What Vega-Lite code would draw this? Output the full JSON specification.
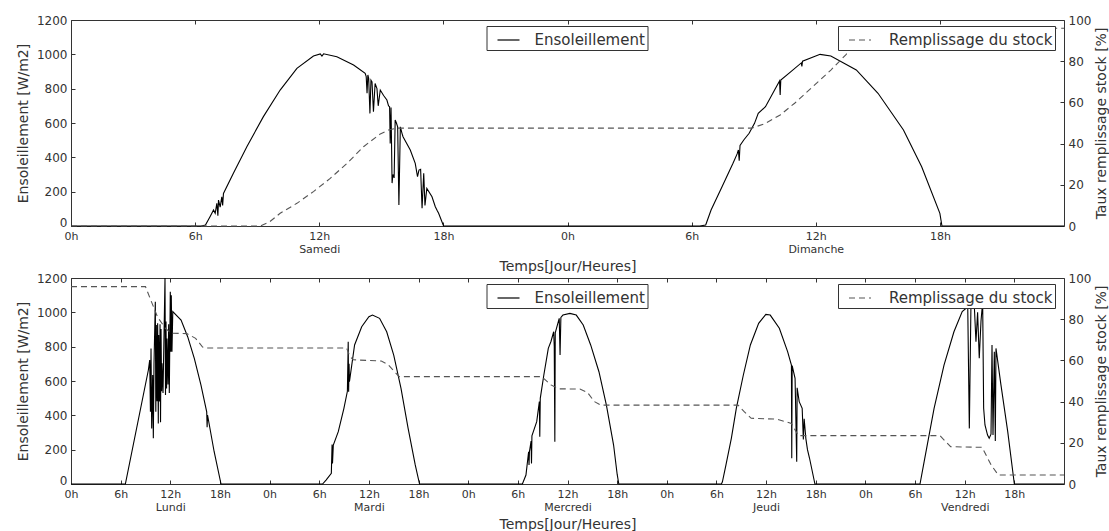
{
  "$schema": "https://vega.github.io/schema/vega-lite/v6.json",
  "background": "white",
  "padding": {"left": 15, "top": 13, "right": 2, "bottom": 0},
  "config": {
    "font": "DejaVu Sans",
    "view": {"stroke": "#333", "strokeWidth": 1},
    "axis": {"labelColor": "#333", "titleColor": "#333", "tickColor": "#333", "grid": false, "domain": false, "labelFont": "DejaVu Sans", "titleFont": "DejaVu Sans", "titleFontWeight": "normal"},
    "legend": {"labelFont": "DejaVu Sans", "labelColor": "#333", "labelLimit": 400}
  },
  "datasets": {
    "irr_top": [
      {"h":0,"v":0},{"h":6.3,"v":0},{"h":6.5,"v":6},{"h":6.72,"v":54},{"h":6.89,"v":93},{"h":6.97,"v":74},{"h":7.05,"v":132},{"h":7.1,"v":60},{"h":7.13,"v":151},{"h":7.21,"v":110},{"h":7.29,"v":170},{"h":7.33,"v":120},{"h":7.37,"v":190},{"h":7.85,"v":307},{"h":8.5,"v":462},{"h":9.3,"v":637},{"h":10.11,"v":792},{"h":10.92,"v":918},{"h":11.72,"v":990},{"h":12.05,"v":1002},{"h":12.13,"v":990},{"h":12.21,"v":1003},{"h":12.85,"v":986},{"h":13.66,"v":938},{"h":14.22,"v":889},{"h":14.27,"v":870},{"h":14.31,"v":773},{"h":14.35,"v":880},{"h":14.39,"v":860},{"h":14.45,"v":656},{"h":14.5,"v":850},{"h":14.55,"v":840},{"h":14.62,"v":666},{"h":14.7,"v":830},{"h":14.79,"v":800},{"h":14.85,"v":700},{"h":14.95,"v":792},{"h":15.11,"v":760},{"h":15.27,"v":734},{"h":15.35,"v":700},{"h":15.4,"v":695},{"h":15.43,"v":481},{"h":15.47,"v":690},{"h":15.52,"v":250},{"h":15.56,"v":300},{"h":15.62,"v":280},{"h":15.67,"v":617},{"h":15.73,"v":600},{"h":15.79,"v":578},{"h":15.85,"v":122},{"h":15.92,"v":578},{"h":16.0,"v":540},{"h":16.05,"v":520},{"h":16.4,"v":443},{"h":16.64,"v":365},{"h":16.75,"v":287},{"h":16.82,"v":326},{"h":16.9,"v":330},{"h":16.97,"v":103},{"h":17.05,"v":307},{"h":17.11,"v":120},{"h":17.2,"v":219},{"h":17.45,"v":170},{"h":17.61,"v":112},{"h":17.7,"v":90},{"h":17.77,"v":74},{"h":18.01,"v":0},
      {"h":30.4,"v":0},{"h":30.68,"v":6},{"h":30.94,"v":93},{"h":31.47,"v":229},{"h":32.0,"v":365},{"h":32.2,"v":420},{"h":32.26,"v":443},{"h":32.3,"v":380},{"h":32.34,"v":470},{"h":32.52,"v":501},{"h":32.78,"v":540},{"h":33.04,"v":598},{"h":33.22,"v":656},{"h":33.57,"v":695},{"h":34.01,"v":792},{"h":34.25,"v":845},{"h":34.28,"v":763},{"h":34.31,"v":850},{"h":34.8,"v":899},{"h":35.3,"v":950},{"h":35.33,"v":930},{"h":35.36,"v":960},{"h":36.21,"v":1000},{"h":36.73,"v":990},{"h":37.96,"v":909},{"h":39.01,"v":773},{"h":40.24,"v":559},{"h":41.12,"v":345},{"h":42.0,"v":74},{"h":42.1,"v":0},{"h":48,"v":0}
    ],
    "stock_top": [
      {"h":0,"p":0},{"h":9.15,"p":0},{"h":9.6,"p":2},{"h":10.11,"p":6.2},{"h":10.92,"p":11},{"h":11.72,"p":16.7},{"h":12.53,"p":23.1},{"h":13.34,"p":30.4},{"h":14.14,"p":38.5},{"h":14.95,"p":44.7},{"h":15.35,"p":46.6},{"h":15.76,"p":47.5},{"h":32.9,"p":47.5},{"h":33.57,"p":49.8},{"h":34.28,"p":53.9},{"h":34.98,"p":59.6},{"h":35.85,"p":67.6},{"h":36.73,"p":75.7},{"h":37.44,"p":83},{"h":38.05,"p":90.3},{"h":38.7,"p":95},{"h":39.3,"p":96},{"h":48,"p":96}
    ],
    "irr_bot": [
      {"h":0,"v":0},{"h":6.57,"v":0},{"h":9.35,"v":664},{"h":9.51,"v":722},{"h":9.6,"v":421},{"h":9.67,"v":790},{"h":9.75,"v":324},{"h":9.87,"v":635},{"h":9.95,"v":266},{"h":10.03,"v":700},{"h":10.19,"v":1062},{"h":10.25,"v":421},{"h":10.31,"v":926},{"h":10.4,"v":482},{"h":10.47,"v":936},{"h":10.55,"v":353},{"h":10.6,"v":868},{"h":10.7,"v":480},{"h":10.76,"v":930},{"h":10.82,"v":360},{"h":10.88,"v":903},{"h":10.95,"v":540},{"h":11.0,"v":703},{"h":11.12,"v":530},{"h":11.36,"v":1200},{"h":11.42,"v":518},{"h":11.48,"v":946},{"h":11.55,"v":557},{"h":11.6,"v":848},{"h":11.72,"v":580},{"h":11.8,"v":930},{"h":11.88,"v":530},{"h":12.0,"v":1120},{"h":12.06,"v":771},{"h":12.12,"v":1100},{"h":12.2,"v":770},{"h":12.3,"v":1004},{"h":13.3,"v":955},{"h":14.1,"v":858},{"h":14.9,"v":732},{"h":15.7,"v":577},{"h":16.4,"v":420},{"h":16.45,"v":330},{"h":16.5,"v":402},{"h":17.3,"v":188},{"h":18.13,"v":0},
      {"h":30.4,"v":0},{"h":30.82,"v":23},{"h":31.46,"v":62},{"h":31.55,"v":230},{"h":31.6,"v":120},{"h":31.7,"v":227},{"h":32.3,"v":305},{"h":32.98,"v":441},{"h":33.4,"v":540},{"h":33.5,"v":829},{"h":33.55,"v":538},{"h":33.6,"v":700},{"h":33.65,"v":596},{"h":34.27,"v":810},{"h":35.13,"v":916},{"h":36.0,"v":975},{"h":36.43,"v":984},{"h":37.29,"v":965},{"h":38.15,"v":887},{"h":39.0,"v":751},{"h":39.88,"v":557},{"h":40.74,"v":324},{"h":41.6,"v":111},{"h":42.12,"v":0},
      {"h":54.55,"v":0},{"h":54.98,"v":52},{"h":55.3,"v":188},{"h":55.35,"v":111},{"h":55.4,"v":188},{"h":55.6,"v":250},{"h":55.65,"v":120},{"h":55.7,"v":280},{"h":56.28,"v":363},{"h":56.6,"v":480},{"h":56.65,"v":276},{"h":56.71,"v":499},{"h":57.14,"v":635},{"h":57.68,"v":790},{"h":58.0,"v":830},{"h":58.33,"v":887},{"h":58.4,"v":800},{"h":58.47,"v":246},{"h":58.52,"v":880},{"h":59.0,"v":965},{"h":59.1,"v":751},{"h":59.2,"v":970},{"h":59.45,"v":984},{"h":60.3,"v":994},{"h":61.06,"v":984},{"h":61.9,"v":926},{"h":62.8,"v":810},{"h":63.8,"v":654},{"h":64.7,"v":460},{"h":65.57,"v":227},{"h":66.0,"v":57},{"h":66.2,"v":0},
      {"h":78.6,"v":0},{"h":78.72,"v":13},{"h":79.15,"v":111},{"h":79.8,"v":266},{"h":80.4,"v":441},{"h":81.25,"v":635},{"h":82.1,"v":810},{"h":83.1,"v":936},{"h":83.97,"v":988},{"h":84.5,"v":984},{"h":85.6,"v":907},{"h":86.6,"v":771},{"h":87.06,"v":693},{"h":87.1,"v":150},{"h":87.15,"v":690},{"h":87.5,"v":616},{"h":87.55,"v":500},{"h":87.7,"v":130},{"h":87.75,"v":560},{"h":88.0,"v":480},{"h":88.36,"v":441},{"h":88.5,"v":260},{"h":88.6,"v":380},{"h":88.8,"v":266},{"h":89.0,"v":200},{"h":89.25,"v":150},{"h":89.9,"v":0},
      {"h":102.6,"v":0},{"h":103.1,"v":130},{"h":104.3,"v":441},{"h":105.5,"v":693},{"h":106.7,"v":887},{"h":107.7,"v":1004},{"h":108.15,"v":1023},{"h":108.36,"v":1060},{"h":108.56,"v":324},{"h":108.76,"v":1060},{"h":109.16,"v":1040},{"h":109.36,"v":829},{"h":109.56,"v":1000},{"h":109.76,"v":732},{"h":109.97,"v":950},{"h":110.17,"v":1060},{"h":110.29,"v":441},{"h":110.45,"v":344},{"h":110.76,"v":285},{"h":110.96,"v":266},{"h":111.18,"v":290},{"h":111.3,"v":810},{"h":111.42,"v":285},{"h":111.58,"v":771},{"h":111.7,"v":250},{"h":111.78,"v":790},{"h":112.38,"v":577},{"h":113.2,"v":305},{"h":114.0,"v":0},{"h":120,"v":0}
    ],
    "stock_bot": [
      {"h":0,"p":95.8},{"h":9.0,"p":95.8},{"h":9.67,"p":89},{"h":10.47,"p":81},{"h":11.4,"p":75.6},{"h":12.1,"p":73.2},{"h":14.0,"p":73},{"h":15.06,"p":70.7},{"h":15.9,"p":66.5},{"h":16.3,"p":66},{"h":33.3,"p":66},{"h":33.7,"p":62},{"h":34.1,"p":60.3},{"h":37.5,"p":59.7},{"h":38.3,"p":58},{"h":39.0,"p":55},{"h":39.66,"p":52.1},{"h":56.9,"p":52.1},{"h":58.0,"p":48.1},{"h":58.9,"p":46.2},{"h":61.5,"p":46.1},{"h":62.4,"p":44.5},{"h":63.25,"p":40},{"h":64.0,"p":38.3},{"h":80.6,"p":38.3},{"h":81.35,"p":35.1},{"h":82.2,"p":31.9},{"h":85.3,"p":31.5},{"h":87.06,"p":29.4},{"h":87.9,"p":23.5},{"h":105.0,"p":23.5},{"h":106.3,"p":18.1},{"h":110.1,"p":17.8},{"h":111.2,"p":9.2},{"h":112.05,"p":4.4},{"h":120,"p":4.4}
    ]
  },
  "bounds": "flush",
  "spacing": 52,
  "resolve": {"scale": {"color": "independent", "strokeDash": "independent"}, "legend": {"color": "independent", "strokeDash": "independent"}},
  "vconcat": [
    {
      "width": 993,
      "height": 206,
      "resolve": {"scale": {"y": "independent"}},
      "layer": [
        {
          "data": {"name": "irr_top"},
          "mark": {"type": "line", "strokeWidth": 1.1},
          "encoding": {
            "x": {"field": "h", "type": "quantitative", "scale": {"domain": [0, 48], "nice": false, "zero": false},
              "axis": {"orient": "bottom", "values": [0,6,12,18,24,30,36,42], "title": "Temps[Jour/Heures]", "titleFontSize": 14, "titleY": 40, "titleBaseline": "middle", "labelFontSize": 11, "labelExpr": "datum.value % 24 == 12 ? ['12h', ['Samedi','Dimanche'][floor(datum.value / 24)]] : (datum.value % 24) + 'h'", "labelPadding": 8, "tickSize": -4, "labelLineHeight": 13, "labelFlush": false, "labelOverlap": false}},
            "y": {"field": "v", "type": "quantitative", "scale": {"domain": [0, 1200], "nice": false},
              "axis": {"orient": "left", "values": [0,200,400,600,800,1000,1200], "format": "d", "title": "Ensoleillement [W/m2]", "titleFontSize": 14, "titleX": -48, "titleY": 103, "titleAngle": -90, "titleAlign": "center", "titleBaseline": "middle", "labelFontSize": 12, "tickSize": -4, "labelPadding": 8, "labelFlush": false, "labelOffset": {"condition": {"test": "datum.value == 0", "value": -4}, "value": 0}}},
            "color": {"datum": "Ensoleillement", "type": "nominal", "scale": {"range": ["black"]},
              "legend": {"title": null, "orient": "none", "legendX": 415.5, "legendY": 6, "strokeColor": "#333", "fillColor": "white", "padding": 2, "symbolType": "stroke", "symbolSize": 484, "symbolStrokeWidth": 1.2, "symbolOffset": 8, "labelFontSize": 15, "labelOffset": 14, "labelExpr": "datum.label + '  '", "zindex": 1}}
          }
        },
        {
          "data": {"name": "stock_top"},
          "mark": {"type": "line", "color": "#555", "strokeWidth": 1.1},
          "encoding": {
            "x": {"field": "h", "type": "quantitative", "scale": {"domain": [0, 48], "nice": false, "zero": false},
              "axis": {"orient": "top", "values": [0,6,12,18,24,30,36,42], "labels": false, "title": null, "tickSize": -4}},
            "y": {"field": "p", "type": "quantitative", "scale": {"domain": [0, 100], "nice": false},
              "axis": {"orient": "right", "values": [0,20,40,60,80,100], "format": "d", "title": "Taux remplissage stock [%]", "titleFontSize": 14, "titleX": 37, "titleY": 103, "titleAngle": -90, "titleAlign": "center", "titleBaseline": "middle", "labelFontSize": 12, "tickSize": -4, "labelPadding": 8, "labelFlush": false}},
            "strokeDash": {"datum": "Remplissage du stock", "type": "nominal", "scale": {"range": [[6, 4]]},
              "legend": {"title": null, "orient": "none", "legendX": 767, "legendY": 6, "strokeColor": "#333", "fillColor": "white", "padding": 2, "symbolType": "stroke", "symbolSize": 484, "symbolStrokeWidth": 1.2, "symbolStrokeColor": "#555", "symbolOffset": 8, "labelFontSize": 15, "labelOffset": 17, "labelExpr": "datum.label + '  '", "zindex": 1}}
          }
        }
      ]
    },
    {
      "width": 993,
      "height": 206,
      "resolve": {"scale": {"y": "independent"}},
      "layer": [
        {
          "data": {"name": "irr_bot"},
          "mark": {"type": "line", "strokeWidth": 1.1},
          "encoding": {
            "x": {"field": "h", "type": "quantitative", "scale": {"domain": [0, 120], "nice": false, "zero": false},
              "axis": {"orient": "bottom", "values": [0,6,12,18,24,30,36,42,48,54,60,66,72,78,84,90,96,102,108,114], "title": "Temps[Jour/Heures]", "titleFontSize": 14, "titleY": 40, "titleBaseline": "middle", "labelFontSize": 11, "labelExpr": "datum.value % 24 == 12 ? ['12h', ['Lundi','Mardi','Mercredi','Jeudi','Vendredi'][floor(datum.value / 24)]] : (datum.value % 24) + 'h'", "labelPadding": 8, "tickSize": -4, "labelLineHeight": 13, "labelFlush": false, "labelOverlap": false}},
            "y": {"field": "v", "type": "quantitative", "scale": {"domain": [0, 1200], "nice": false},
              "axis": {"orient": "left", "values": [0,200,400,600,800,1000,1200], "format": "d", "title": "Ensoleillement [W/m2]", "titleFontSize": 14, "titleX": -48, "titleY": 103, "titleAngle": -90, "titleAlign": "center", "titleBaseline": "middle", "labelFontSize": 12, "tickSize": -4, "labelPadding": 8, "labelFlush": false, "labelOffset": {"condition": {"test": "datum.value == 0", "value": -4}, "value": 0}}},
            "color": {"datum": "Ensoleillement", "type": "nominal", "scale": {"range": ["black"]},
              "legend": {"title": null, "orient": "none", "legendX": 415.5, "legendY": 6, "strokeColor": "#333", "fillColor": "white", "padding": 2, "symbolType": "stroke", "symbolSize": 484, "symbolStrokeWidth": 1.2, "symbolOffset": 8, "labelFontSize": 15, "labelOffset": 14, "labelExpr": "datum.label + '  '", "zindex": 1}}
          }
        },
        {
          "data": {"name": "stock_bot"},
          "mark": {"type": "line", "color": "#555", "strokeWidth": 1.1},
          "encoding": {
            "x": {"field": "h", "type": "quantitative", "scale": {"domain": [0, 120], "nice": false, "zero": false},
              "axis": {"orient": "top", "values": [0,6,12,18,24,30,36,42,48,54,60,66,72,78,84,90,96,102,108,114], "labels": false, "title": null, "tickSize": -4}},
            "y": {"field": "p", "type": "quantitative", "scale": {"domain": [0, 100], "nice": false},
              "axis": {"orient": "right", "values": [0,20,40,60,80,100], "format": "d", "title": "Taux remplissage stock [%]", "titleFontSize": 14, "titleX": 37, "titleY": 103, "titleAngle": -90, "titleAlign": "center", "titleBaseline": "middle", "labelFontSize": 12, "tickSize": -4, "labelPadding": 8, "labelFlush": false}},
            "strokeDash": {"datum": "Remplissage du stock", "type": "nominal", "scale": {"range": [[6, 4]]},
              "legend": {"title": null, "orient": "none", "legendX": 767, "legendY": 6, "strokeColor": "#333", "fillColor": "white", "padding": 2, "symbolType": "stroke", "symbolSize": 484, "symbolStrokeWidth": 1.2, "symbolStrokeColor": "#555", "symbolOffset": 8, "labelFontSize": 15, "labelOffset": 17, "labelExpr": "datum.label + '  '", "zindex": 1}}
          }
        }
      ]
    }
  ]
}
